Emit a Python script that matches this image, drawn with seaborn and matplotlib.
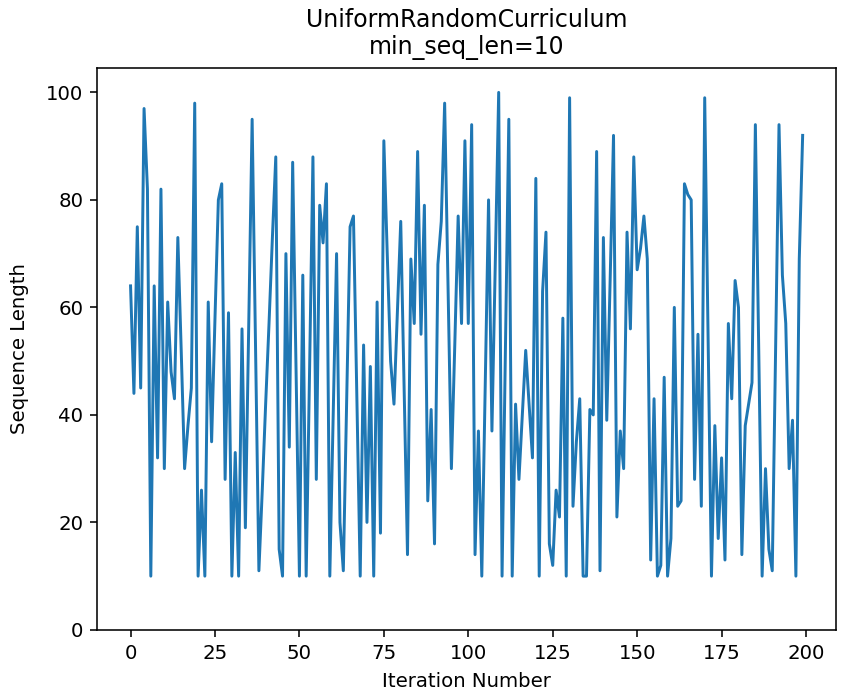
import matplotlib
matplotlib.use("Agg")
import matplotlib.pyplot as plt
import seaborn as sns
import pandas as pd

title = "UniformRandomCurriculum\nmin_seq_len=10"
x_label = "Iteration Number"
y_label = "Sequence Length"

seq_len = [
    64, 44, 75, 45, 97, 82, 10, 64, 32, 82,
    30, 61, 48, 43, 73, 52, 30, 38, 45, 98,
    10, 26, 10, 61, 35, 58, 80, 83, 28, 59,
    10, 33, 10, 56, 19, 57, 95, 53, 11, 26,
    42, 57, 73, 88, 15, 10, 70, 34, 87, 48,
    10, 66, 10, 48, 88, 28, 79, 72, 83, 10,
    40, 70, 20, 11, 43, 75, 77, 43, 10, 53,
    20, 49, 10, 61, 18, 91, 70, 50, 42, 59,
    76, 45, 14, 69, 57, 89, 55, 79, 24, 41,
    16, 68, 76, 98, 64, 30, 53, 77, 57, 91,
    57, 94, 14, 37, 10, 45, 80, 37, 68, 100,
    10, 52, 95, 10, 42, 28, 40, 52, 42, 32,
    84, 10, 63, 74, 16, 12, 26, 21, 58, 10,
    99, 23, 35, 43, 10, 10, 41, 40, 89, 11,
    73, 39, 65, 92, 21, 37, 30, 74, 56, 88,
    67, 71, 77, 69, 13, 43, 10, 12, 47, 10,
    17, 60, 23, 24, 83, 81, 80, 28, 55, 23,
    99, 55, 10, 38, 17, 32, 13, 57, 43, 65,
    60, 14, 38, 42, 46, 94, 52, 10, 30, 15,
    11, 52, 94, 66, 57, 30, 39, 10, 69, 92,
]
iterations = list(range(len(seq_len)))

df = pd.DataFrame({"iteration": iterations, "seq_len": seq_len})

k = 1.42
fig = plt.figure(figsize=(8.43, 6.96), dpi=100)
ax = fig.add_axes([0.115, 0.095, 0.877, 0.807])
sns.lineplot(data=df, x="iteration", y="seq_len", ax=ax, color="#1f77b4", linewidth=1.5 * k)
ax.set_ylim(bottom=0)
ax.set_xticks([0, 25, 50, 75, 100, 125, 150, 175, 200])
ax.set_yticks([0, 20, 40, 60, 80, 100])
ax.tick_params(labelsize=10 * k, length=3.5 * k, width=0.8 * k, pad=3.5 * k)
ax.set_xlabel(x_label, fontsize=10 * k, labelpad=7)
ax.set_ylabel(y_label, fontsize=10 * k, labelpad=12)
ax.set_title(title, fontsize=12 * k, pad=10)
for s in ax.spines.values():
    s.set_linewidth(0.8 * k)

fig.savefig("out.png", dpi=100)
